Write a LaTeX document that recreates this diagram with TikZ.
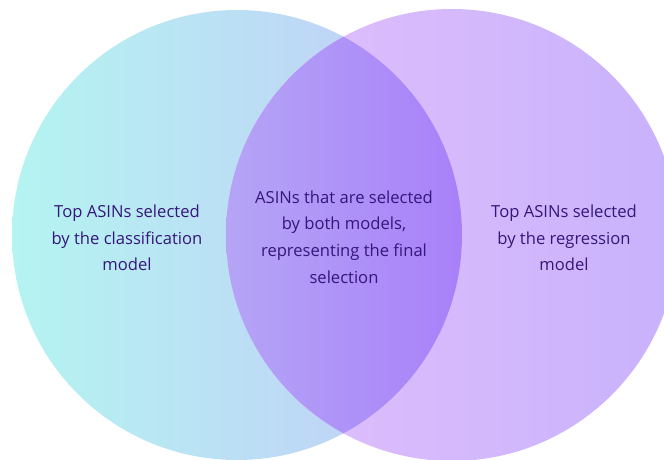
\documentclass[tikz,border=0pt]{standalone}
\usepackage{fontspec}
\setmainfont{Open Sans}
\definecolor{classleft}{HTML}{B4F4F1}
\definecolor{classright}{HTML}{C3CAF8}
\definecolor{regleft}{HTML}{E2C0FC}
\definecolor{regright}{HTML}{C8B2FC}
\definecolor{bothleft}{HTML}{B5A5F6}
\definecolor{bothright}{HTML}{A880F9}
\definecolor{textindigo}{HTML}{35167A}
\begin{document}
\begin{tikzpicture}[
  x=1pt, y=1pt,
  vennlabel/.style={align=center, text=textindigo, font=\fontsize{16.6}{26.7}\selectfont},
]
\useasboundingbox (0,0) rectangle (664,459);

% the two sets
\shade[left color=classleft, right color=classright] (237,224) circle[radius=225];
\shade[left color=regleft, right color=regright] (452,224) circle[radius=226];

% overlap of both sets
\begin{scope}
  \clip (237,224) circle[radius=225];
  \clip (452,224) circle[radius=226];
  \shade[left color=bothleft, right color=bothright] (226,0) rectangle (463,459);
\end{scope}

\node[vennlabel] (classtext) at (127,221) {Top ASINs selected\\by the classification\\model};
\node[vennlabel] (bothtext) at (344,222) {ASINs that are selected\\by both models,\\representing the final\\selection};
\node[vennlabel] (regtext) at (564,221) {Top ASINs selected\\by the regression\\model};
\end{tikzpicture}
\end{document}
